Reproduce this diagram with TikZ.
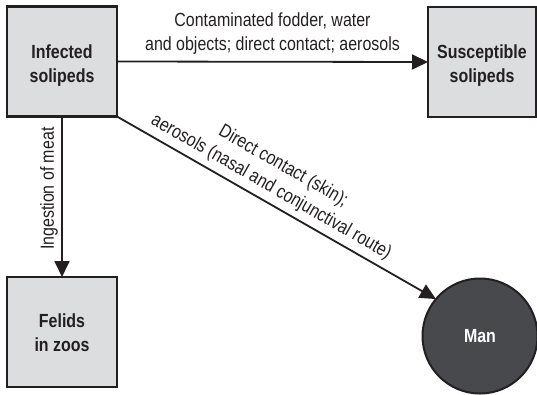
\documentclass[tikz,border=0pt]{standalone}
\usepackage{fontspec}
\setmainfont{Liberation Sans}[FakeStretch=0.84]
\usetikzlibrary{arrows.meta}
\definecolor{boxfill}{HTML}{DCDDDF}
\definecolor{manfill}{HTML}{48494D}
\definecolor{ink}{HTML}{231F20}
\begin{document}
\begin{tikzpicture}[x=1pt,y=-1pt,
  box/.style={draw=ink, line width=2.2pt, fill=boxfill, minimum width=110pt, minimum height=110pt,
    inner sep=0pt, outer sep=0pt},
  boxtext/.style={align=center, font=\fontsize{19}{24}\selectfont\bfseries, text=ink, inner sep=0pt},
  man/.style={circle, draw=ink, line width=2pt, fill=manfill, minimum size=115pt, inner sep=0pt,
    outer sep=0pt, font=\fontsize{19}{24}\selectfont\bfseries, text=white},
  conn/.style={draw=ink, line width=1.8pt, -{Triangle[length=16pt,width=15pt]}},
  lbl/.style={font=\fontsize{19}{24}\selectfont, text=ink, align=center}]
\useasboundingbox (0,0) rectangle (537,394);
\node[box] (inf) at (62,61.5) {};
\node[boxtext] (inft) at ([yshift=-4pt]inf.center) {Infected\\solipeds};
\node[box, minimum width=108pt] (sus) at (482,62) {};
\node[boxtext] (sust) at ([yshift=-4pt]sus.center) {Susceptible\\solipeds};
\node[box] (fel) at (62,332) {};
\node[boxtext] (felt) at ([yshift=-1pt]fel.center) {Felids\\in zoos};
\node[man] (man) at (480,336) {Man};
\draw[conn] (inf.east) -- node[lbl, above=3pt] {Contaminated fodder, water\\and objects; direct contact; aerosols} (sus.west);
\draw[conn] (inf.south) -- node[lbl, rotate=90, anchor=south, pos=0.45] {Ingestion of meat} (fel.north);
\draw[conn] (inf.south east) -- node[lbl, sloped, above=2pt, pos=0.46] {Direct contact (skin);\\aerosols (nasal and conjunctival route)} (man.140);
\end{tikzpicture}
\end{document}
